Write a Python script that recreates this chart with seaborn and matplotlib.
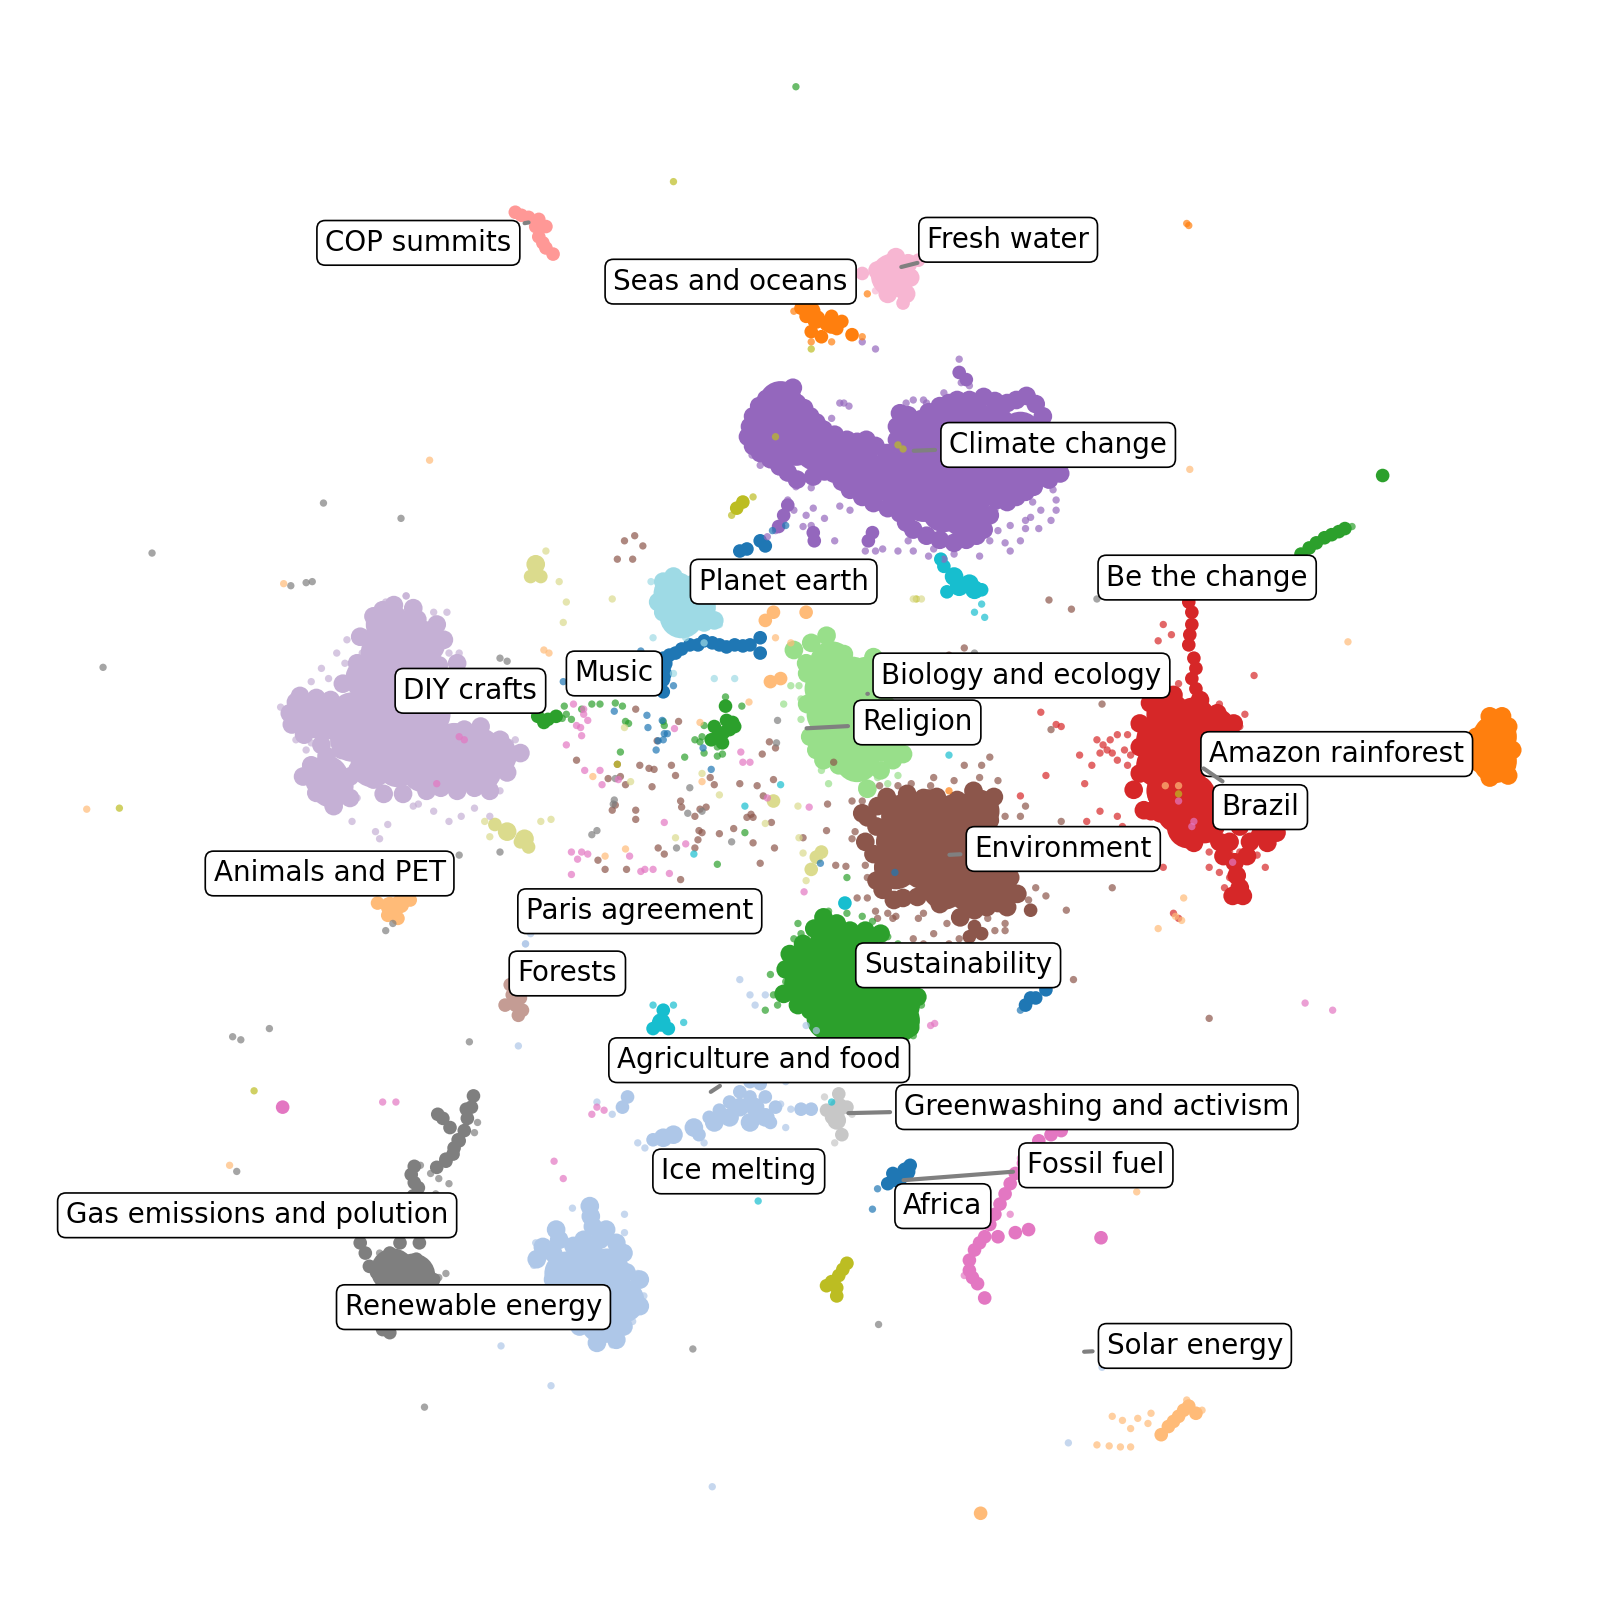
import matplotlib.pyplot as plt
import pandas as pd
import seaborn as sns

# cluster positions, one list per cluster and density level
climate_big = [(760, 410), (775, 415), (755, 430), (780, 435), (800, 440), (815, 448), (835, 455), (850, 465),
               (870, 470), (885, 480), (905, 490), (925, 500), (945, 505), (895, 430), (915, 425), (935, 420),
               (955, 415), (975, 420), (1000, 425), (895, 455), (920, 450), (945, 445), (975, 445), (1000, 450),
               (1015, 455), (925, 475), (955, 480), (975, 470), (1000, 465), (905, 470), (765, 395)]
climate_edge = [(777, 380), (768, 384), (751, 391), (744, 398), (738, 408), (735, 418), (733, 428), (738, 437),
                (745, 444), (755, 450), (764, 457), (772, 463), (781, 470), (797, 467), (808, 462), (817, 464),
                (825, 472), (833, 480), (845, 487), (856, 493), (870, 498), (882, 503), (888, 512), (895, 519),
                (908, 525), (921, 529), (935, 532), (947, 529), (957, 525), (964, 519), (970, 505), (977, 490),
                (987, 492), (996, 487), (1005, 482), (1013, 477), (1028, 470), (1039, 464), (1030, 450), (1022, 441),
                (1025, 425), (1022, 408), (1015, 396), (1006, 388), (996, 392), (987, 395), (975, 393), (964, 389),
                (950, 392), (938, 392), (930, 395), (921, 398), (910, 404), (902, 411), (890, 407), (882, 405),
                (879, 418), (879, 431), (869, 444), (858, 437), (849, 431), (840, 433), (830, 431), (818, 426),
                (807, 421), (800, 414), (794, 408), (788, 400), (781, 395)]
climate_strip = [(763, 516), (768, 505), (772, 495), (797, 522), (798, 530), (851, 530), (855, 522), (947, 372), (940, 365)]
climate_dots = [(737, 446), (745, 456), (762, 462), (780, 477), (795, 478), (772, 490), (760, 520), (752, 526),
                (768, 510), (797, 498), (808, 508), (823, 496), (853, 520), (848, 540), (833, 500), (940, 352),
                (942, 375), (950, 378), (925, 385), (908, 395), (1042, 468), (1032, 480), (1012, 492), (1005, 510),
                (990, 515), (978, 520), (970, 530), (990, 540), (960, 545), (1020, 500), (1000, 530), (935, 543),
                (910, 545), (880, 540), (858, 540), (845, 335), (858, 342), (778, 500), (795, 515), (818, 530),
                (823, 395), (827, 395), (832, 398), (815, 410), (787, 516), (790, 505), (888, 395), (895, 392),
                (905, 392), (1010, 507), (1018, 518), (1030, 510), (1035, 500), (865, 538), (890, 530),
                (895, 540), (915, 538), (925, 548), (985, 532), (1005, 518), (975, 500), (1042, 460), (1035, 490)]
diy_big = [(380, 612), (395, 620), (375, 640), (400, 640), (415, 630), (360, 665), (385, 665), (410, 665),
           (308, 702), (322, 703), (345, 700), (370, 695), (395, 695), (420, 700), (345, 725), (370, 725),
           (395, 725), (420, 725), (445, 730), (470, 735), (485, 740), (365, 750), (390, 750), (415, 755),
           (445, 755), (470, 755), (320, 762), (325, 770)]
diy_edge = [(386, 593), (405, 596), (409, 607), (428, 612), (435, 627), (422, 646), (448, 650), (471, 712), (490, 725),
            (510, 738), (497, 757), (480, 775), (465, 772), (448, 775), (432, 772), (418, 775), (395, 778), (376, 778),
            (366, 764), (297, 761), (305, 750), (320, 741), (343, 761), (343, 782), (327, 790), (310, 777), (284, 699),
            (290, 688), (294, 682), (310, 684), (324, 686), (336, 670), (350, 650), (353, 624), (366, 604), (375, 598),
            (286, 710), (298, 720), (315, 730), (335, 735), (350, 755), (440, 690), (455, 715), (435, 668), (430, 652)]
diy_dots = [(315, 655), (330, 640), (322, 665), (305, 668), (340, 627), (378, 590), (430, 610), (478, 720),
            (495, 722), (380, 808), (372, 822), (368, 815), (345, 805), (425, 795), (440, 805), (465, 792),
            (452, 800), (480, 800), (450, 640), (462, 665), (275, 693), (350, 782), (398, 584), (310, 770),
            (300, 735), (305, 728), (312, 720), (338, 650), (355, 640), (440, 640), (445, 655), (438, 600),
            (425, 600), (290, 725), (282, 712), (500, 728), (505, 725), (512, 740), (478, 780), (490, 775),
            (405, 790), (410, 788), (465, 775), (398, 584)]
red_big = [(1145, 700), (1170, 705), (1190, 715), (1135, 725), (1160, 730), (1185, 740), (1135, 750), (1160, 755),
           (1145, 775), (1170, 780), (1155, 795), (1180, 805), (1165, 810)]
red_edge = [(1150, 681), (1176, 686), (1193, 699), (1209, 709), (1189, 810), (1212, 858), (1215, 870), (1218, 878),
            (1208, 878), (1251, 816), (1242, 826), (1222, 839), (1199, 839), (1170, 826), (1137, 797), (1121, 794),
            (1134, 781), (1111, 774), (1117, 758), (1117, 732), (1117, 709), (1127, 689), (1205, 825), (1225, 825),
            (1235, 818), (1215, 810), (1128, 795), (1195, 825), (1210, 845)]
red_strip = [(1165, 590), (1168, 600), (1168, 612), (1166, 622), (1165, 632), (1170, 645), (1172, 655), (1168, 665),
             (1172, 675)]
red_dots = [(1148, 622), (1135, 628), (1140, 612), (1229, 662), (1075, 725), (1085, 735), (1105, 720), (1095, 745),
            (1070, 750), (1058, 740), (1063, 768), (1095, 720), (1105, 750), (1078, 795), (1095, 800), (1100, 810),
            (1140, 850), (1150, 895), (1155, 900), (1240, 850), (1200, 870), (1185, 835), (1232, 838), (1025, 760),
            (1040, 712), (1020, 698), (1000, 780), (1035, 710), (1065, 805), (1205, 860), (1088, 725), (1081, 730),
            (1090, 738), (1078, 738), (1102, 735), (1155, 670), (1145, 675), (1215, 712), (1220, 700), (1195, 690),
            (1112, 712), (1108, 740), (1112, 755), (1185, 850), (1195, 855), (1215, 835), (1205, 835)]
environment_big = [(885, 800), (910, 795), (935, 800), (958, 795), (880, 825), (905, 825), (930, 825), (955, 820),
                   (878, 850), (905, 850), (930, 850), (955, 850), (975, 870), (950, 872), (925, 870)]
environment_edge = [(869, 781), (889, 778), (905, 782), (918, 781), (938, 784), (954, 775), (974, 781), (970, 804),
                    (990, 860), (997, 876), (987, 889), (967, 889), (941, 899), (921, 886), (899, 879), (876, 882),
                    (859, 863), (856, 837), (859, 810), (850, 801), (845, 797), (865, 872), (885, 880), (955, 892),
                    (978, 885), (848, 825), (860, 790)]
environment_strip = [(962, 915), (955, 908), (950, 918), (1010, 892)]
environment_dots = [(893, 768), (912, 770), (935, 765), (970, 742), (962, 750), (945, 750), (1005, 790), (1000, 800),
                    (985, 800), (845, 785), (862, 770), (928, 905), (915, 915), (905, 925), (878, 898), (850, 880),
                    (858, 893), (1015, 870), (1025, 878), (985, 912), (1045, 892), (1052, 960), (1000, 935),
                    (975, 912), (930, 925), (895, 920), (835, 785), (1040, 805), (1042, 815), (1080, 690), (1030, 715),
                    (930, 642), (945, 635), (1028, 588), (1050, 597), (1090, 870), (940, 920), (870, 895), (1185, 998),
                    (875, 900), (860, 900), (905, 895), (900, 900), (968, 900), (985, 905), (978, 765), (960, 762),
                    (915, 762), (880, 770), (848, 848), (850, 860), (840, 880), (1008, 882), (838, 815)]
scatter_brown = [(623, 695), (665, 707), (644, 726), (605, 749), (627, 750), (636, 753), (641, 754), (658, 750),
                 (662, 760), (596, 763), (608, 761), (613, 769), (639, 771), (696, 762), (700, 769), (725, 768),
                 (747, 739), (754, 727), (760, 733), (742, 770), (758, 764), (667, 785), (668, 791), (603, 789),
                 (600, 794), (623, 794), (623, 803), (681, 800), (686, 793), (692, 791), (732, 801), (736, 798),
                 (738, 801), (748, 780), (756, 806), (719, 812), (685, 814), (688, 816), (705, 817), (684, 823),
                 (738, 826), (759, 831), (645, 831), (651, 837), (681, 831), (667, 862), (593, 852), (586, 843),
                 (614, 852), (745, 846), (787, 821), (810, 814), (811, 788), (819, 848), (829, 849), (835, 822),
                 (817, 747), (612, 530), (622, 525), (630, 535), (605, 548), (620, 548), (520, 690), (565, 745)]
sustain_big = [(790, 945), (815, 925), (840, 930), (790, 965), (815, 950), (840, 955), (865, 950), (810, 975),
               (835, 980), (860, 975), (880, 985), (835, 1000), (860, 1000), (880, 1000), (812, 998)]
sustain_edge = [(807, 899), (820, 905), (833, 912), (848, 912), (863, 915), (899, 977), (892, 1007), (875, 1012),
                (856, 1016), (835, 1016), (810, 1013), (794, 990), (782, 985), (768, 974), (770, 950), (774, 935),
                (787, 925), (798, 910), (880, 950), (890, 965)]
sustain_dots = [(845, 898), (855, 903), (870, 918), (778, 920), (755, 955), (758, 975), (750, 990), (785, 915),
                (880, 925), (782, 905), (830, 895), (762, 985), (770, 962), (903, 985), (895, 1015), (800, 1005),
                (812, 893)]
green_strip = [(709, 718), (703, 722), (715, 715), (697, 725), (720, 712), (712, 706), (700, 712), (711, 692), (708, 728),
               (718, 708), (527, 702), (537, 705), (545, 702), (533, 708), (1275, 543), (1283, 537), (1290, 532),
               (1298, 527), (1305, 524), (1312, 521), (1318, 518), (1355, 466)]
green_dots = [(608, 737), (671, 742), (681, 725), (686, 727), (688, 722), (690, 711), (703, 732), (708, 739),
              (703, 741), (690, 738), (730, 816), (703, 847), (711, 683), (727, 692), (613, 707), (616, 709),
              (650, 707), (651, 711), (580, 690), (588, 690), (603, 689), (610, 692), (560, 705), (555, 700),
              (551, 704), (1325, 516), (780, 85), (553, 692), (570, 695), (830, 860)]
biology_big = [(815, 650), (835, 665), (850, 665), (810, 675), (835, 690), (860, 700), (812, 700), (815, 725),
               (840, 725), (865, 725), (840, 745)]
biology_edge = [(810, 623), (795, 630), (778, 637), (790, 650), (791, 660), (791, 690), (794, 722), (807, 745),
                (822, 750), (836, 755), (850, 773), (863, 755), (885, 739), (856, 644), (827, 641), (880, 720),
                (800, 735), (875, 745)]
biology_dots = [(785, 650), (775, 640), (775, 672), (768, 690), (805, 755), (812, 768), (845, 770), (860, 762),
                (880, 760), (790, 685), (870, 768), (868, 750), (783, 672), (785, 705), (785, 685), (815, 620)]
blue_edge = [(650, 650), (648, 665), (880, 1155), (888, 1148)]
blue_strip = [(725, 540), (732, 538), (750, 535), (745, 530), (650, 645), (656, 642), (662, 640), (668, 636), (676, 632),
              (684, 632), (690, 628), (698, 630), (705, 632), (712, 634), (720, 632), (728, 633), (735, 632), (745, 625),
              (745, 640), (650, 678), (645, 655), (652, 660), (870, 1160), (892, 1142),
              (875, 1150), (1005, 985), (1015, 978), (1025, 970), (1010, 978)]
blue_dots = [(602, 697), (634, 701), (635, 713), (643, 735), (645, 726), (650, 725), (651, 719), (654, 719),
             (649, 706), (689, 733), (697, 754), (804, 846), (620, 672), (650, 680), (757, 520), (552, 668), (628, 638),
             (882, 1170), (855, 1185), (860, 1165), (1000, 990), (877, 855), (770, 515), (660, 672), (640, 675)]
renewable_big = [(575, 1240), (555, 1248), (595, 1245), (595, 1270), (575, 1275), (610, 1275), (590, 1295)]
renewable_edge = [(578, 1182), (579, 1192), (581, 1202), (594, 1205), (604, 1218), (611, 1228), (614, 1247), (627, 1254),
                  (627, 1280), (611, 1300), (604, 1313), (585, 1316), (568, 1300), (555, 1275), (542, 1254), (526, 1234),
                  (532, 1222), (542, 1228), (545, 1205), (548, 1215), (562, 1221), (572, 1215), (588, 1215)]
renewable_dots = [(548, 1205), (545, 1218), (525, 1218), (523, 1240), (625, 1248), (631, 1270), (605, 1220),
                  (612, 1208), (508, 1025), (540, 1358), (491, 1319), (698, 1457), (1047, 1414), (1080, 1340),
                  (561, 1184), (612, 1190), (515, 925), (520, 915), (515, 925), (620, 1295), (600, 1318)]
ice_edge = [(725, 1085), (740, 1085), (715, 1095), (750, 1095), (735, 1100), (700, 1100), (680, 1105), (660, 1112),
            (650, 1115)]
ice_strip = [(735, 1060), (725, 1070), (715, 1080), (705, 1088), (695, 1095), (640, 1117), (735, 1075), (750, 1075),
             (760, 1085), (755, 1100), (685, 1112), (785, 1087), (795, 1087), (610, 1085), (615, 1075), (745, 1062)]
ice_dots = [(600, 1092), (625, 1120), (770, 1060), (765, 1082), (770, 1105), (690, 1120), (585, 1080),
            (740, 985), (735, 975), (725, 960), (750, 975), (800, 1010), (790, 1005), (632, 1125), (775, 1087)]
gas_big = [(385, 1245), (405, 1250)]
gas_strip = [(464, 1074), (462, 1085), (457, 1087), (458, 1096), (455, 1108), (450, 1118), (445, 1125), (437, 1136),
             (429, 1092), (434, 1096), (441, 1105), (449, 1117), (444, 1131), (437, 1138), (428, 1144), (406, 1143),
             (403, 1151), (406, 1159), (410, 1164), (405, 1172), (353, 1218), (358, 1228), (362, 1241), (369, 1247),
             (382, 1228), (392, 1218), (411, 1218), (408, 1234), (418, 1251), (375, 1303), (382, 1306), (425, 1254)]
gas_dots = [(422, 1150), (412, 1142), (430, 1155), (430, 1178), (440, 1160), (427, 1170), (468, 1100), (465, 1110),
            (430, 1252), (437, 1248), (360, 1208), (372, 1228), (378, 912), (385, 905), (317, 493), (393, 508),
            (149, 542), (101, 654), (300, 571), (306, 570), (285, 574), (228, 1016), (236, 1019), (264, 1008),
            (460, 1021), (232, 1148), (861, 1298), (679, 1322), (416, 1379), (490, 645), (497, 648),
            (603, 763), (602, 784), (601, 788), (676, 772), (674, 797), (688, 795), (580, 818), (585, 814),
            (663, 831), (717, 825), (762, 706), (761, 728), (490, 835), (450, 838), (1075, 587), (955, 640)]
fossil_strip = [(1040, 1108), (1030, 1112), (1018, 1118), (1010, 1128), (1003, 1140), (995, 1150), (990, 1160), (985, 1170),
                (980, 1180), (975, 1190), (970, 1200), (965, 1212), (978, 1212), (995, 1208), (1008, 1205), (960, 1218),
                (955, 1225), (950, 1245), (953, 1252), (958, 1258), (965, 1272), (1079, 1213), (277, 1085), (950, 1235)]
fossil_dots = [(1000, 1135), (990, 1190), (945, 1250), (968, 1178), (375, 1080), (388, 1080), (580, 1092),
               (585, 1085), (592, 1088), (543, 1138), (552, 1155), (1279, 983), (1306, 990), (916, 1003), (912, 1005),
               (1170, 805), (1155, 785), (1168, 810), (1208, 845),
               (573, 755), (588, 755), (590, 769), (606, 764), (651, 806), (672, 827), (617, 839), (560, 835), (570, 835),
               (576, 837), (566, 842), (560, 857), (628, 854), (632, 852), (640, 852), (656, 856), (726, 737), (728, 747),
               (735, 747), (661, 714), (752, 782), (793, 791), (788, 874), (555, 730), (570, 721), (565, 711), (569, 713),
               (576, 706), (572, 700), (572, 695), (562, 690), (450, 722), (455, 725), (428, 768)]
seas_edge = [(795, 305), (800, 313), (815, 318)]
seas_strip = [(785, 302), (790, 310), (810, 318), (820, 322), (835, 328), (815, 310), (795, 325), (805, 330), (825, 315)]
seas_dots = [(845, 330), (778, 305), (815, 335), (795, 335), (850, 288), (930, 775), (1163, 219), (1165, 221)]
amazon_big = [(1465, 722), (1465, 735), (1465, 746)]
amazon_edge = [(1447, 722), (1445, 735), (1450, 748), (1460, 762), (1478, 760), (1482, 735), (1478, 712), (1460, 702),
               (1472, 702)]
animals_edge = [(382, 888), (392, 886)]
animals_strip = [(370, 885), (402, 882), (380, 897), (390, 900), (1165, 1378), (1155, 1388), (1145, 1398),
                 (1138, 1406), (1172, 1385), (1160, 1382), (1150, 1393), (961, 1483),
                 (750, 608), (758, 600), (790, 600), (755, 668), (765, 665)]
animals_dots = [(1090, 1388), (1100, 1392), (1115, 1390), (1125, 1395), (1108, 1400), (1128, 1385), (1075, 1416),
                (1087, 1417), (1098, 1418), (1108, 1418), (1178, 1382), (1163, 1372), (421, 451), (278, 572),
                (85, 793), (1166, 460), (1321, 629), (1114, 1168), (225, 1142), (1135, 910), (1152, 898), (1158, 902),
                (581, 761), (688, 766), (593, 839), (613, 832), (734, 688), (686, 708), (533, 637), (538, 640),
                (775, 630), (760, 625), (1155, 770), (1142, 770), (1160, 880)]
cop_strip = [(505, 208), (511, 211), (518, 213), (528, 215), (535, 222), (528, 232), (532, 238), (535, 243), (542, 249),
             (525, 222)]
fresh_big = [(875, 270)]
fresh_edge = [(878, 252), (890, 258), (892, 272), (888, 288), (870, 288), (860, 265)]
fresh_strip = [(900, 255), (845, 268), (885, 297)]
fresh_dots = [(905, 250), (840, 268), (858, 285)]
olive_strip = [(830, 1238), (826, 1244), (822, 1250), (815, 1256), (810, 1260), (820, 1262), (820, 1270), (728, 492), (722, 498)]
olive_dots = [(738, 487), (717, 505), (660, 178), (117, 792), (249, 1069), (885, 440), (880, 436), (760, 428),
              (795, 342), (898, 587), (605, 749), (1155, 778)]
khaki_edge = [(525, 553), (497, 815), (514, 822)]
khaki_strip = [(530, 565), (520, 565), (485, 808), (518, 830), (510, 825), (800, 840), (795, 852), (805, 835), (758, 785)]
khaki_dots = [(535, 540), (548, 570), (555, 590), (600, 587), (552, 610), (475, 805), (480, 820), (530, 805), (540, 803),
              (618, 766), (688, 758), (705, 779), (662, 821), (750, 807), (782, 790), (783, 821), (787, 836), (612, 713),
              (790, 863), (895, 587), (903, 587)]
cyan_edge = [(935, 565), (940, 575), (950, 572), (955, 578), (648, 1002)]
cyan_strip = [(925, 555), (922, 548), (962, 578), (928, 580), (650, 990), (640, 1008), (655, 1008), (828, 885)]
cyan_dots = [(920, 548), (962, 592), (955, 600), (965, 605), (670, 1002), (660, 985), (640, 985), (730, 790), (680, 837),
             (765, 769), (743, 1177), (930, 740), (815, 1080), (930, 712)]
earth_big = [(662, 582), (680, 595), (668, 604)]
earth_edge = [(650, 570), (690, 610), (700, 608), (645, 590), (660, 565), (680, 572), (650, 600), (690, 600)]
earth_dots = [(638, 570), (705, 612), (640, 625), (672, 625), (690, 630), (700, 665), (720, 665), (660, 660)]
forests_strip = [(505, 985), (500, 965), (512, 990), (495, 985), (502, 975), (510, 978), (508, 995)]
greenwash_edge = [(822, 1085), (820, 1098)]
greenwash_strip = [(822, 1072), (825, 1112), (810, 1088), (830, 1085), (815, 1095)]
greenwash_dots = [(808, 1075), (835, 1092), (818, 1120)]

tab20 = sns.color_palette("tab20")
palette = {
    "blue": tab20[0], "lightblue": tab20[1], "orange": tab20[2], "lightorange": tab20[3], "green": tab20[4],
    "lightgreen": tab20[5], "red": tab20[6], "salmon": tab20[7], "purple": tab20[8], "lilac": tab20[9],
    "brown": tab20[10], "tan": tab20[11], "pink": tab20[12], "lightpink": tab20[13], "gray": tab20[14],
    "silver": tab20[15], "olive": tab20[16], "khaki": tab20[17], "cyan": tab20[18], "lightcyan": tab20[19],
}

big_groups = [("purple", climate_big), ("lilac", diy_big), ("red", red_big), ("brown", environment_big),
              ("green", sustain_big), ("lightgreen", biology_big), ("lightblue", renewable_big), ("gray", gas_big),
              ("orange", amazon_big), ("lightpink", fresh_big), ("lightcyan", earth_big)]
edge_groups = [("purple", climate_edge), ("lilac", diy_edge), ("red", red_edge), ("brown", environment_edge),
               ("green", sustain_edge), ("lightgreen", biology_edge), ("blue", blue_edge), ("lightblue", renewable_edge),
               ("lightblue", ice_edge), ("orange", seas_edge), ("orange", amazon_edge), ("lightorange", animals_edge),
               ("lightpink", fresh_edge), ("khaki", khaki_edge), ("cyan", cyan_edge), ("lightcyan", earth_edge),
               ("silver", greenwash_edge)]
strip_groups = [("purple", climate_strip), ("red", red_strip), ("brown", environment_strip), ("green", green_strip),
                ("blue", blue_strip), ("lightblue", ice_strip), ("gray", gas_strip), ("pink", fossil_strip),
                ("orange", seas_strip), ("lightorange", animals_strip), ("salmon", cop_strip), ("lightpink", fresh_strip),
                ("olive", olive_strip), ("khaki", khaki_strip), ("cyan", cyan_strip), ("tan", forests_strip),
                ("silver", greenwash_strip)]
dot_groups = [("purple", climate_dots), ("lilac", diy_dots), ("red", red_dots), ("brown", environment_dots),
              ("brown", scatter_brown), ("green", sustain_dots), ("green", green_dots), ("lightgreen", biology_dots),
              ("blue", blue_dots), ("lightblue", renewable_dots), ("lightblue", ice_dots), ("gray", gas_dots),
              ("pink", fossil_dots), ("orange", seas_dots), ("lightorange", animals_dots), ("lightpink", fresh_dots),
              ("olive", olive_dots), ("khaki", khaki_dots), ("cyan", cyan_dots), ("lightcyan", earth_dots),
              ("silver", greenwash_dots)]

labels = ["COP summits", "Fresh water", "Seas and oceans", "Climate change", "Planet earth", "Be the change",
          "Biology and ecology", "Religion", "Music", "DIY crafts", "Amazon rainforest", "Brazil", "Environment",
          "Animals and PET", "Paris agreement", "Forests", "Sustainability", "Agriculture and food", "Ice melting",
          "Greenwashing and activism", "Fossil fuel", "Africa", "Gas emissions and polution", "Renewable energy",
          "Solar energy"]
label_x = [410, 988, 716, 1037, 768, 1183, 1001, 899, 602, 461, 1310, 1235, 1042, 323, 627, 556, 939, 744, 724,
           1075, 1074, 924, 252, 464, 1171]
label_y = [238, 235, 276, 436, 570, 566, 662, 708, 660, 677, 739, 791, 832, 856, 893, 954, 946, 1039, 1148,
           1085, 1142, 1182, 1191, 1281, 1319]
# None where the line stays hidden behind the label
target_x = [518, 878, None, 890, None, None, 850, 785, None, None, None, 1175, 925, None, None, None, None, 692, None,
            826, 880, None, None, None, 1057]
target_y = [218, 263, None, 442, None, None, 680, 714, None, None, None, 750, 838, None, None, None, None, 1073, None,
            1091, 1157, None, None, None, 1325]


def to_frame(groups):
    rows = []
    for color, points in groups:
        rows.extend((x, y, color) for x, y in points)
    return pd.DataFrame(rows, columns=["x", "y", "color"])


plt.rcParams["font.family"] = "DejaVu Sans"
fig = plt.figure(figsize=(8, 8), dpi=200)
ax = fig.add_axes([0, 0, 1, 1])

# big discs fill the blob cores, the smaller levels give them their outline
for groups, size, alpha in [(big_groups, 250, 1), (edge_groups, 45, 1), (strip_groups, 24, 1), (dot_groups, 7, 0.7)]:
    sns.scatterplot(data=to_frame(groups), x="x", y="y", hue="color", palette=palette, s=size, alpha=alpha,
                    linewidth=0, legend=False, ax=ax)

box = dict(boxstyle="round", fc="white", ec="black", lw=0.6)
for text, lx, ly, tx, ty in zip(labels, label_x, label_y, target_x, target_y):
    if tx is None:
        ax.text(lx, ly, text, ha="center", va="center", fontsize=10, zorder=5, bbox=box)
    else:
        ax.annotate(text, xy=(tx, ty), xytext=(lx, ly), ha="center", va="center", fontsize=10, zorder=5, bbox=box,
                    arrowprops=dict(arrowstyle="-", color="gray", lw=1.5))

ax.set_xlim(0, 1568)
ax.set_ylim(1568, 0)
ax.axis("off")
fig.savefig("out.png", dpi=200)
plt.close(fig)
